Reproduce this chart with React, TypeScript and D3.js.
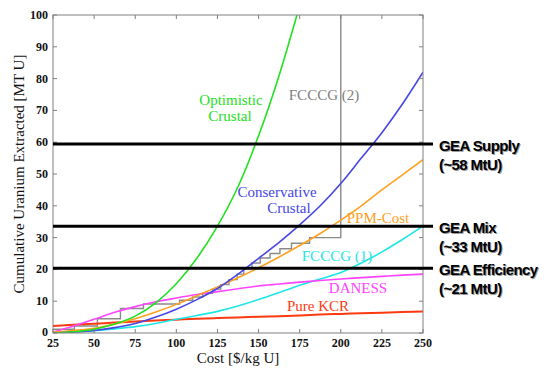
import React from "react";
import * as d3 from "d3";

const costs = [25, 37.5, 50, 62.5, 75, 87.5, 100, 112.5, 125, 137.5, 150, 162.5, 175, 187.5, 200, 212.5, 225, 237.5, 250];

const optimisticCosts = [25, 37.5, 50, 62.5, 75, 87.5, 100, 112.5, 125, 137.5, 150, 162.5, 175];
const optimisticCrustal = [0, 0.4, 1.2, 2.8, 5.3, 9.5, 15.5, 23.5, 33.6, 46, 62, 81, 103];

const conservativeCrustal = [0, 0.3, 0.8, 1.7, 3, 5, 7.5, 10.5, 14, 18.5, 23.5, 28.5, 34, 40, 47, 55, 63, 72, 82];
const ppmCost = [0.3, 0.8, 1.5, 2.8, 4.5, 6.6, 9, 11.7, 14.5, 17.4, 20.5, 23.9, 27.5, 31.3, 35.5, 40, 45, 49.7, 54.5];
const fcccg1 = [0.2, 0.4, 0.7, 1.3, 2, 3, 4.3, 5.5, 6.8, 8.5, 10.5, 12.7, 15, 17, 19, 22, 25.5, 29.4, 33.6];
const daness = [0.3, 2.2, 4.3, 6.5, 8.3, 9.8, 11, 12.1, 13, 13.9, 14.8, 15.4, 16, 16.5, 17, 17.4, 17.8, 18.2, 18.5];
const pureKcr = [2.2, 2.6, 2.9, 3.3, 3.6, 3.9, 4.2, 4.5, 4.7, 4.9, 5.1, 5.3, 5.5, 5.8, 6.0, 6.2, 6.4, 6.6, 6.8];

const fcccg2Costs = [25, 38, 52, 66, 80, 102, 110, 116, 122, 127, 132, 137, 141, 146, 151, 157, 163, 170, 181, 200];
const fcccg2 = [1.2, 2.2, 4.5, 7.7, 9.1, 10.3, 11.3, 12.5, 13.8, 15.2, 16.8, 18.5, 20.3, 22.0, 23.6, 25.0, 26.5, 28.2, 30.0, 100];

const xTicks = [25, 50, 75, 100, 125, 150, 175, 200, 225, 250];
const yTicks = [0, 10, 20, 30, 40, 50, 60, 70, 80, 90, 100];

const geaLevels = [59.4, 33.6, 20.4];
const geaNames = ["GEA Supply", "GEA Mix", "GEA Efficiency"];
const geaNotes = ["(~58 MtU)", "(~33 MtU)", "(~21 MtU)"];

const W = 559;
const H = 371;
const left = 53;
const right = 423;
const top = 15;
const bottom = 333;

export default function App() {
  const x = d3.scaleLinear().domain([25, 250]).range([left, right]);
  const y = d3.scaleLinear().domain([0, 100]).range([bottom, top]);

  const smooth = (xs: number[], ys: number[]) =>
    d3
      .line<number>()
      .x((_, i) => x(xs[i]))
      .y((d) => y(d))
      .curve(d3.curveMonotoneX)(ys) as string;

  const step = d3
    .line<number>()
    .x((_, i) => x(fcccg2Costs[i]))
    .y((d) => y(d))
    .curve(d3.curveStepAfter)(fcccg2) as string;

  const serif = "'Liberation Serif', 'Times New Roman', serif";
  const sans = "'Liberation Sans', Arial, sans-serif";
  const axisColor = "#808080";

  const series = [
    { xs: costs, ys: pureKcr, color: "#ff3a10", w: 2 },
    { xs: costs, ys: fcccg1, color: "#1ee6e6", w: 1.6 },
    { xs: costs, ys: daness, color: "#ff44ff", w: 1.6 },
    { xs: costs, ys: ppmCost, color: "#ffa020", w: 1.6 },
    { xs: costs, ys: conservativeCrustal, color: "#4646e6", w: 1.6 },
    { xs: optimisticCosts, ys: optimisticCrustal, color: "#22e022", w: 1.6 },
  ];

  const labels = [
    { t: "Optimistic", x: 231, y: 105, c: "#22e022" },
    { t: "Crustal", x: 230, y: 121, c: "#22e022" },
    { t: "FCCCG (2)", x: 324, y: 100, c: "#808080" },
    { t: "Conservative", x: 277, y: 197, c: "#4646e6" },
    { t: "Crustal", x: 289, y: 213, c: "#4646e6" },
    { t: "PPM-Cost", x: 378, y: 223, c: "#ffa020" },
    { t: "FCCCG (1)", x: 337, y: 261, c: "#1ee6e6" },
    { t: "DANESS", x: 358, y: 293, c: "#ff44ff" },
    { t: "Pure KCR", x: 318, y: 311, c: "#ff3a10" },
  ];

  return (
    <svg width={W} height={H} style={{ position: "absolute", left: 0, top: 0, background: "#fff" }}>
      <defs>
        <clipPath id="plot">
          <rect x={left} y={top} width={right - left} height={bottom - top} />
        </clipPath>
      </defs>
      <rect x={0} y={0} width={W} height={H} fill="#fff" />

      <g clipPath="url(#plot)">
        <path d={step} fill="none" stroke="#8a8a8a" strokeWidth={1.4} />
        {series.map((s, i) => (
          <path key={i} d={smooth(s.xs, s.ys)} fill="none" stroke={s.color} strokeWidth={s.w} />
        ))}
      </g>

      {/* axes box */}
      <rect x={left} y={top} width={right - left} height={bottom - top} fill="none" stroke={axisColor} strokeWidth={1} />
      {xTicks.map((t) => (
        <g key={"xt" + t}>
          <line x1={x(t)} x2={x(t)} y1={bottom} y2={bottom - 4} stroke={axisColor} />
          <line x1={x(t)} x2={x(t)} y1={top} y2={top + 4} stroke={axisColor} />
          <text x={x(t)} y={347} textAnchor="middle" fontFamily={serif} fontSize={12} fontWeight="bold" fill="#111">
            {t}
          </text>
        </g>
      ))}
      {yTicks.map((t) => (
        <g key={"yt" + t}>
          <line x1={left} x2={left + 4} y1={y(t)} y2={y(t)} stroke={axisColor} />
          <line x1={right} x2={right - 4} y1={y(t)} y2={y(t)} stroke={axisColor} />
          <text
            x={left - 5}
            y={y(t) + (t === 0 ? 2.5 : 4)}
            textAnchor="end"
            fontFamily={serif}
            fontSize={12}
            fontWeight="bold"
            fill="#111"
          >
            {t}
          </text>
        </g>
      ))}

      <text x={(left + right) / 2} y={363} textAnchor="middle" fontFamily={serif} fontSize={15} fill="#111">
        Cost [$/kg U]
      </text>
      <text
        transform={`translate(24, ${(top + bottom) / 2}) rotate(-90)`}
        textAnchor="middle"
        fontFamily={serif}
        fontSize={15}
        fill="#111"
      >
        Cumulative Uranium Extracted [MT U]
      </text>

      {labels.map((l, i) => (
        <text key={"lb" + i} x={l.x} y={l.y} textAnchor="middle" fontFamily={serif} fontSize={15} fill={l.c}>
          {l.t}
        </text>
      ))}

      {geaLevels.map((v, i) => (
        <g key={"gea" + i}>
          <line x1={left} x2={433} y1={y(v)} y2={y(v)} stroke="#000" strokeWidth={3} />
          {[1, 0].map((o) => (
            <g key={o} fill={o ? "#9a9a9a" : "#000"}>
              <text x={439 + o} y={y(v) + 7 + o} fontFamily={sans} fontWeight="bold" fontSize={15} letterSpacing={-0.6}>
                {geaNames[i]}
              </text>
              <text x={439 + o} y={y(v) + 26 + o} fontFamily={sans} fontWeight="bold" fontSize={15} letterSpacing={-0.6}>
                {geaNotes[i]}
              </text>
            </g>
          ))}
        </g>
      ))}
    </svg>
  );
}
